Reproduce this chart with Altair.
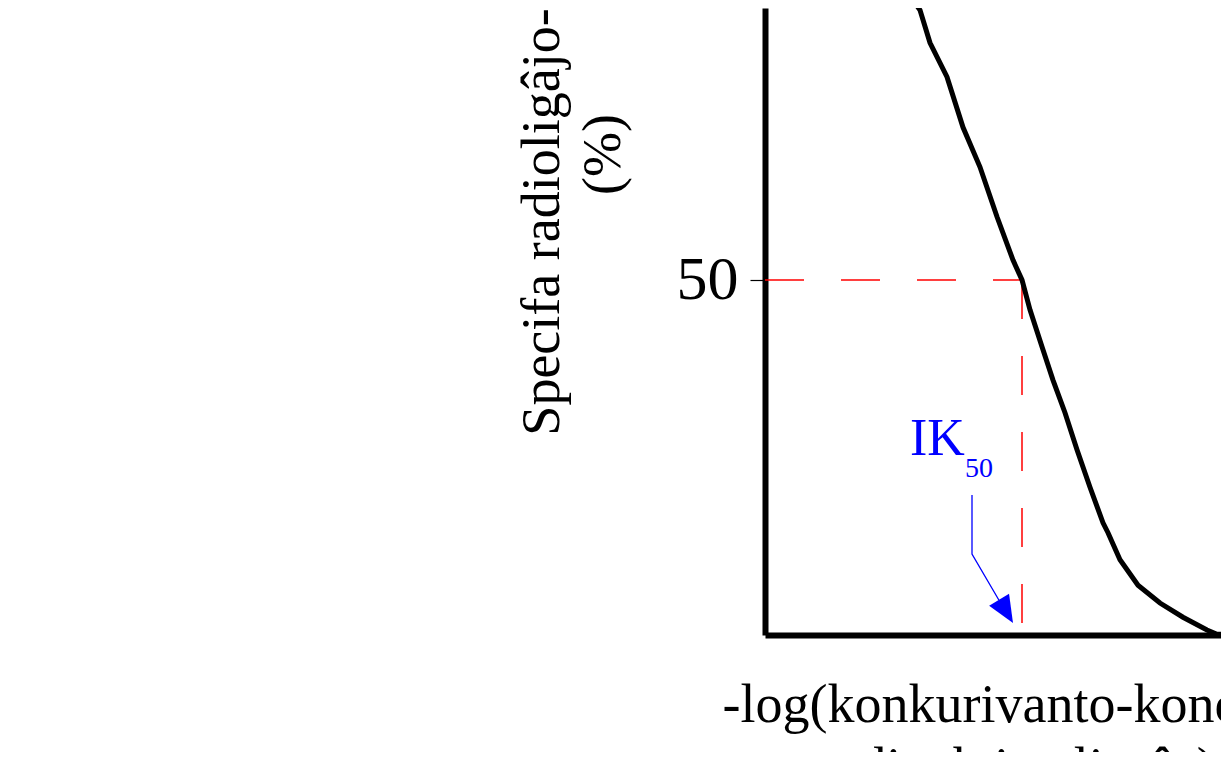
import altair as alt
import pandas as pd

# Binding curve (x: -log concentration, arbitrary units; y: specific binding %)
curve_x = [1.40, 1.48, 1.55, 1.65, 1.82, 1.98, 2.15, 2.32, 2.48, 2.57, 2.65, 2.77, 2.88,
           3.00, 3.12, 3.25, 3.38, 3.43, 3.55, 3.73, 3.95, 4.18, 4.42, 4.52, 4.64]
curve_y = [91.5, 89.4, 88.0, 83.4, 78.6, 71.5, 65.9, 58.9, 52.8, 50.0, 45.8, 40.6, 35.9,
           31.3, 26.1, 20.8, 15.8, 14.4, 10.6, 7.0, 4.5, 2.5, 0.7, 0.1, 0.1]

ik50_x = 2.57
half_y = 50

# IK50 annotation (label + bent arrow)
label_main = ["IK"]
label_main_x = [1.45]
label_main_y = [25.35]
label_sub = ["50"]
label_sub_x = [2.00]
label_sub_y = [22.25]
arrow_x = [2.07, 2.07, 2.34]
arrow_y = [19.7, 11.4, 4.9]
arrow_tip_x = [2.48]
arrow_tip_y = [1.7]

NBSP = "\u00a0"
y_title = ["Specifa radioligâjo-ligado" + NBSP * 5, "(%)"]
x_title = ["-log(konkurivanto-koncentriteco", "=ne radioaktiva ligaîo)"]

FONT = "Liberation Serif"

x_scale = alt.Scale(domain=[0, 4.56], nice=False, zero=False)
y_scale = alt.Scale(domain=[0, 88.3], nice=False, zero=False)

x_axis = alt.Axis(
    values=[], ticks=False, labels=False, grid=False,
    domainColor="black", domainWidth=6,
    title=x_title, titleFont=FONT, titleFontSize=54, titleFontWeight="normal",
    titleColor="black", titleAlign="left", titleBaseline="alphabetic",
    titleX=-43, titleY=86, titleLineHeight=63,
)
y_axis = alt.Axis(
    values=[50], grid=False, domainColor="black", domainWidth=6,
    tickColor="black", tickWidth=1.2, tickSize=15,
    labelFont=FONT, labelFontSize=62, labelColor="black", labelPadding=12,
    title=y_title, titleFont=FONT, titleFontSize=54, titleFontWeight="normal",
    titleColor="black", titleAngle=270, titleAlign="center", titleBaseline="alphabetic",
    titleX=-207, titleY=146, titleLineHeight=61,
)

def X(field="x"):
    return alt.X(f"{field}:Q", scale=x_scale, axis=x_axis)

def Y(field="y"):
    return alt.Y(f"{field}:Q", scale=y_scale, axis=y_axis)

curve_df = pd.DataFrame({"x": curve_x, "y": curve_y, "i": range(len(curve_x))})
curve = alt.Chart(curve_df).mark_line(color="black", strokeWidth=5, clip=True).encode(
    x=X(), y=Y(), order="i:Q"
)

hline_df = pd.DataFrame({"x": [0.0], "x2": [ik50_x], "y": [half_y]})
hline = alt.Chart(hline_df).mark_rule(color="#ff0000", strokeWidth=1.5, strokeDash=[39, 37]).encode(
    x=X(), x2="x2:Q", y=Y()
)
vline_df = pd.DataFrame({"x": [ik50_x], "y": [half_y], "y2": [0.0]})
vline = alt.Chart(vline_df).mark_rule(color="#ff0000", strokeWidth=1.5, strokeDash=[39, 37]).encode(
    x=X(), y=Y(), y2="y2:Q"
)

main_df = pd.DataFrame({"x": label_main_x, "y": label_main_y, "t": label_main})
main_txt = alt.Chart(main_df).mark_text(
    align="left", baseline="alphabetic", font=FONT, fontSize=52, color="#0000ff"
).encode(x=X(), y=Y(), text="t:N")

sub_df = pd.DataFrame({"x": label_sub_x, "y": label_sub_y, "t": label_sub})
sub_txt = alt.Chart(sub_df).mark_text(
    align="left", baseline="alphabetic", font=FONT, fontSize=28, color="#0000ff"
).encode(x=X(), y=Y(), text="t:N")

arrow_df = pd.DataFrame({"x": arrow_x, "y": arrow_y, "i": range(len(arrow_x))})
arrow = alt.Chart(arrow_df).mark_line(color="#0000ff", strokeWidth=1.3).encode(
    x=X(), y=Y(), order="i:Q"
)

tip_df = pd.DataFrame({"x": arrow_tip_x, "y": arrow_tip_y})
tip = alt.Chart(tip_df).mark_point(
    shape="M0,0L-0.43,1L0.43,1Z", filled=True, color="#0000ff", opacity=1,
    size=2916, angle=149, strokeWidth=0
).encode(x=X(), y=Y())

chart = alt.layer(hline, vline, curve, arrow, tip, main_txt, sub_txt).properties(
    width=456, height=627,
    autosize=alt.AutoSizeParams(type="none"),
    padding={"left": 757, "top": 0, "right": 0, "bottom": 117},
    background="white",
).configure_view(stroke=None)

chart.save("out.html", embed_options={"renderer": "svg", "actions": False})
